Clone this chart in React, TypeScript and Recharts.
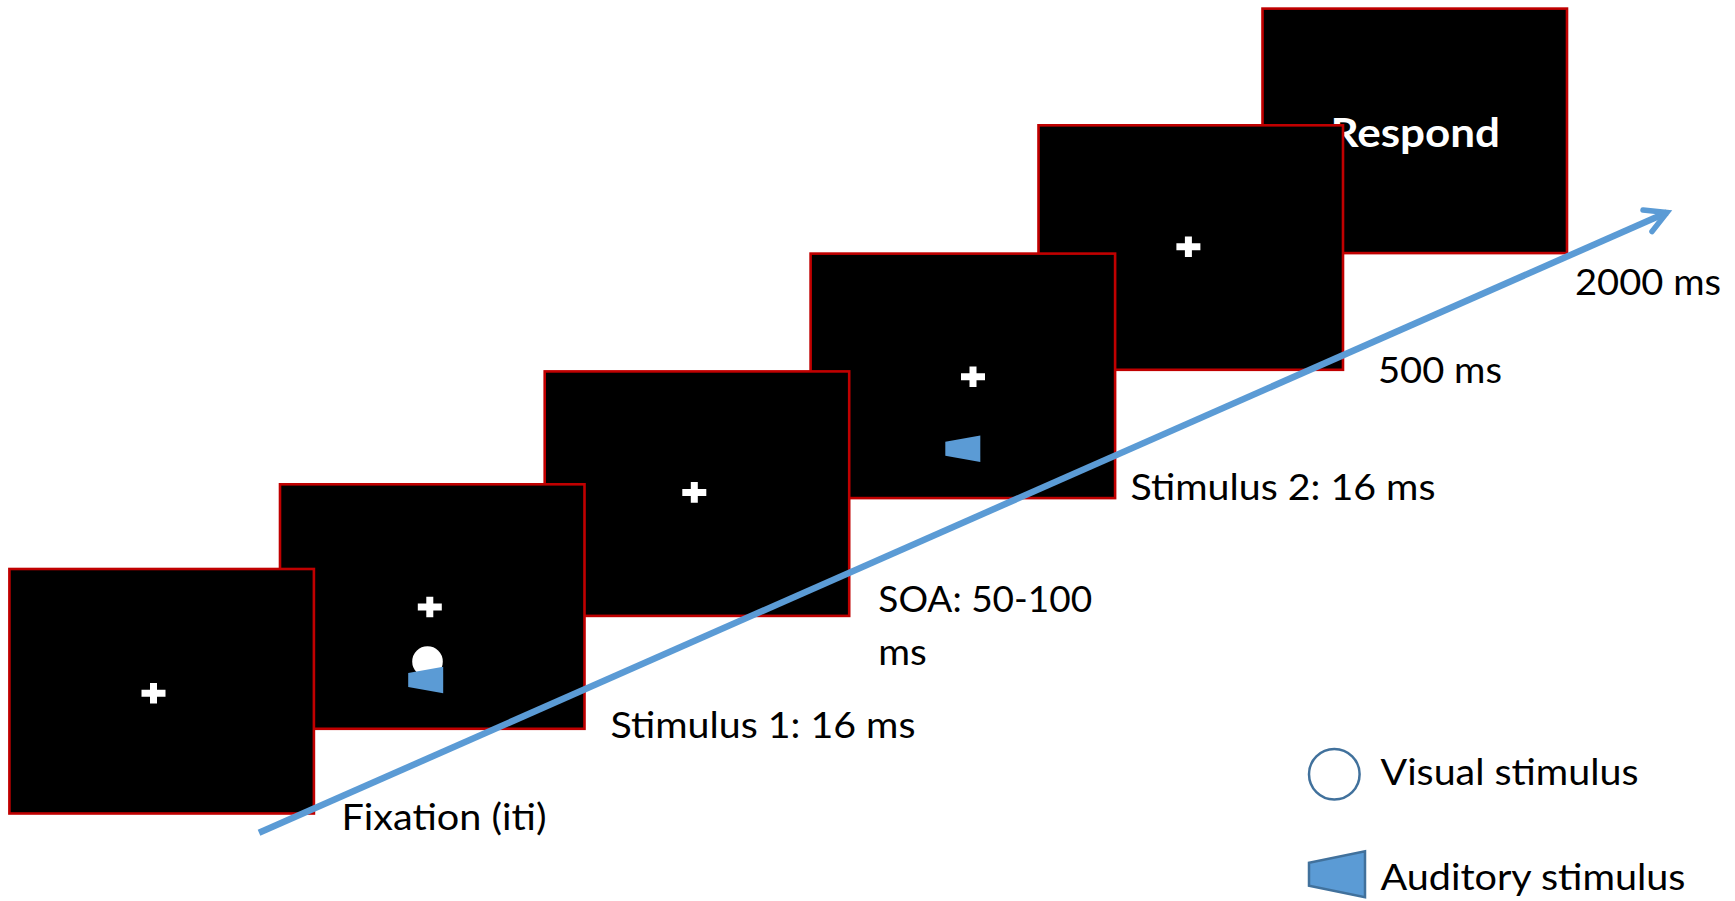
import React from "react";
import { ComposedChart, XAxis, YAxis, Scatter } from "recharts";

const CHART_W = 1735;
const CHART_H = 901;

// Values below are in picture units on a 1735 x 901 plane (y grows downward).
const backFrame = [{ x: 1262.5, y: 8.6 }];
const frontFrames = [
  { x: 1038.5, y: 125.3 },
  { x: 810.6, y: 253.6 },
  { x: 544.7, y: 371.4 },
  { x: 280, y: 484.3 },
  { x: 9.4, y: 569 },
];
const crosses = [
  { x: 153.5, y: 693.3 },
  { x: 429.8, y: 607 },
  { x: 694.3, y: 492.4 },
  { x: 973, y: 376.7 },
  { x: 1188.4, y: 246.7 },
];
const visualStimuli = [{ x: 427.5, y: 661.5 }];
const auditoryStimuli = [
  { x: 443.2, y: 680 },
  { x: 980.3, y: 448.8 },
];
const legendCircle = [{ x: 1334.3, y: 774.3 }];
const legendTrapezoid = [{ x: 1365, y: 874.2 }];
const timeLine = [
  { x: 259, y: 832.8 },
  { x: 1667, y: 212.5 },
];
const arrowHead = [
  { x: 1643, y: 210 },
  { x: 1667, y: 212.5 },
  { x: 1652, y: 231.5 },
];
const respondLabel = [{ x: 1330.5, y: 146.7, text: "Respond" }];
const labels = [
  { x: 341.5, y: 830, text: "Fixation (iti)" },
  { x: 610.5, y: 737.5, text: "Stimulus 1: 16 ms" },
  { x: 878.3, y: 611.5, text: "SOA: 50-100" },
  { x: 878.3, y: 664.5, text: "ms" },
  { x: 1130.5, y: 499.5, text: "Stimulus 2: 16 ms" },
  { x: 1378, y: 383, text: "500 ms" },
  { x: 1575, y: 295, text: "2000 ms" },
  { x: 1380.5, y: 785, text: "Visual stimulus" },
  { x: 1380.5, y: 890, text: "Auditory stimulus" },
];

const FRAME_W = 304.5;
const FRAME_H = 244.5;
const RED = "#C00000";
const BLUE = "#5B9BD5";
const DARK_BLUE = "#41719C";
const FONT = "Lato, 'Open Sans', sans-serif";
const TEXT_WIDTHS: Record<string, number> = {
  "Fixation (iti)": 205,
  "Stimulus 1: 16 ms": 305,
  "SOA: 50-100": 214,
  ms: 48.5,
  "Stimulus 2: 16 ms": 305,
  "500 ms": 124,
  "2000 ms": 146,
  "Visual stimulus": 258,
  "Auditory stimulus": 305,
  Respond: 169.5,
};

const FrameShape = (p: any) => (
  <rect x={p.cx} y={p.cy} width={FRAME_W} height={FRAME_H} fill="#000" stroke={RED} strokeWidth={2.6} />
);
const CrossShape = (p: any) => (
  <path
    transform={`translate(${p.cx},${p.cy})`}
    d="M-3.5,-10.3 H3.5 V-3.5 H12 V3.5 H3.5 V10.3 H-3.5 V3.5 H-12 V-3.5 H-3.5 Z"
    fill="#fff"
  />
);
const WhiteDot = (p: any) => <circle cx={p.cx} cy={p.cy} r={15.3} fill="#fff" />;
const SmallTrapezoid = (p: any) => (
  <path transform={`translate(${p.cx},${p.cy})`} d="M0,-13.3 V13.3 L-35,7 V-7 Z" fill={BLUE} />
);
const LegendCircleShape = (p: any) => (
  <circle cx={p.cx} cy={p.cy} r={25.3} fill="#fff" stroke={DARK_BLUE} strokeWidth={2.5} />
);
const LegendTrapezoidShape = (p: any) => (
  <path
    transform={`translate(${p.cx},${p.cy})`}
    d="M0,-23 V23 L-56,11.5 V-11.5 Z"
    fill={BLUE}
    stroke={DARK_BLUE}
    strokeWidth={2.5}
  />
);
const NoMark = () => <g />;
const TextShape = (p: any) => (
  <text
    x={p.cx}
    y={p.cy}
    fontFamily={FONT}
    fontSize={36}
    fill="#000"
    textLength={TEXT_WIDTHS[p.payload.text]}
    lengthAdjust="spacingAndGlyphs"
  >
    {p.payload.text}
  </text>
);
const RespondShape = (p: any) => (
  <text
    x={p.cx}
    y={p.cy}
    fontFamily={FONT}
    fontSize={41}
    fontWeight={700}
    fill="#fff"
    textLength={TEXT_WIDTHS[p.payload.text]}
    lengthAdjust="spacingAndGlyphs"
  >
    {p.payload.text}
  </text>
);

export default function App() {
  return (
    <div style={{ position: "absolute", left: 0, top: 0, width: CHART_W, height: CHART_H, background: "#fff" }}>
      <ComposedChart width={CHART_W} height={CHART_H} margin={{ top: 0, right: 0, bottom: 0, left: 0 }}>
        <XAxis type="number" dataKey="x" domain={[0, CHART_W]} hide allowDataOverflow />
        <YAxis type="number" dataKey="y" domain={[0, CHART_H]} reversed hide allowDataOverflow />
        <Scatter data={backFrame} shape={FrameShape} isAnimationActive={false} />
        <Scatter data={respondLabel} shape={RespondShape} isAnimationActive={false} />
        <Scatter data={frontFrames} shape={FrameShape} isAnimationActive={false} />
        <Scatter data={crosses} shape={CrossShape} isAnimationActive={false} />
        <Scatter data={visualStimuli} shape={WhiteDot} isAnimationActive={false} />
        <Scatter data={auditoryStimuli} shape={SmallTrapezoid} isAnimationActive={false} />
        <Scatter data={legendCircle} shape={LegendCircleShape} isAnimationActive={false} />
        <Scatter data={legendTrapezoid} shape={LegendTrapezoidShape} isAnimationActive={false} />
        <Scatter data={labels} shape={TextShape} isAnimationActive={false} />
        <Scatter
          data={timeLine}
          shape={NoMark}
          line={{ stroke: BLUE, strokeWidth: 6.5 }}
          isAnimationActive={false}
        />
        <Scatter
          data={arrowHead}
          shape={NoMark}
          line={{ stroke: BLUE, strokeWidth: 5.5, strokeLinecap: "round", strokeLinejoin: "miter" }}
          isAnimationActive={false}
        />
      </ComposedChart>
    </div>
  );
}
